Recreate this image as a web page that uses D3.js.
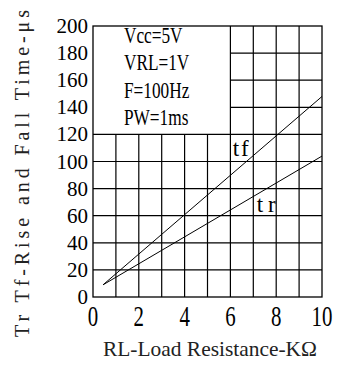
<!DOCTYPE html>
<html>
<head>
<meta charset="utf-8">
<script src="https://cdn.jsdelivr.net/npm/d3@7"></script>
<style>
body { margin: 0; background: #fff; }
</style>
</head>
<body>
<script>
// data
const xTicks = [0, 2, 4, 6, 8, 10];
const yTicks = [0, 20, 40, 60, 80, 100, 120, 140, 160, 180, 200];
const tfPoints = [{x: 0.44, y: 9}, {x: 10, y: 148}];
const trPoints = [{x: 0.44, y: 9}, {x: 10, y: 104}];
const conditions = ["Vcc=5V", "VRL=1V", "F=100Hz", "PW=1ms"];

const W = 343, H = 365;
var margin = {top: 26, right: 21, bottom: 68, left: 93};
var width = W - margin.left - margin.right,
    height = H - margin.top - margin.bottom;

var xScale = d3.scaleLinear().domain([0, 10]).range([0, width]);
var yScale = d3.scaleLinear().domain([0, 200]).range([height, 0]);

var svg = d3.select("body").append("svg")
    .attr("width", W)
    .attr("height", H);

var g = svg.append("g")
    .attr("transform", "translate(" + margin.left + "," + margin.top + ")");

var grid = g.append("g").attr("stroke", "#000").attr("stroke-width", 1.2);

// vertical grid: x=1..5 stop at the legend box (y=120), x>=6 full height
d3.range(1, 10).forEach(function(v) {
  grid.append("line")
    .attr("x1", xScale(v)).attr("x2", xScale(v))
    .attr("y1", yScale(0))
    .attr("y2", v < 6 ? yScale(120) : yScale(200));
});

// horizontal grid
d3.range(20, 200, 20).forEach(function(v) {
  grid.append("line")
    .attr("x1", v > 120 ? xScale(6) : xScale(0))
    .attr("x2", xScale(10))
    .attr("y1", yScale(v)).attr("y2", yScale(v));
});

// frame
g.append("rect")
  .attr("x", 0).attr("y", 0)
  .attr("width", width).attr("height", height)
  .attr("fill", "none")
  .attr("stroke", "#000")
  .attr("stroke-width", 1.3);

var line = d3.line()
  .x(function(d) { return xScale(d.x); })
  .y(function(d) { return yScale(d.y); });

g.append("path").datum(tfPoints)
  .attr("d", line).attr("fill", "none").attr("stroke", "#000").attr("stroke-width", 1);
g.append("path").datum(trPoints)
  .attr("d", line).attr("fill", "none").attr("stroke", "#000").attr("stroke-width", 1);

// curve labels
g.append("text")
  .attr("x", xScale(6.1)).attr("y", yScale(104))
  .attr("font-family", "Liberation Serif").attr("font-size", 23)
  .attr("textLength", 16).attr("lengthAdjust", "spacing")
  .text("tf");
g.append("text")
  .attr("x", xScale(7.15)).attr("y", yScale(63))
  .attr("font-family", "Liberation Serif").attr("font-size", 23)
  .attr("textLength", 19).attr("lengthAdjust", "spacing")
  .text("tr");

// conditions in the legend box
conditions.forEach(function(t, i) {
  g.append("text")
    .attr("transform", "translate(" + (xScale(1.35)) + "," + (17 + i * 27.3) + ") scale(0.72,1)")
    .attr("font-family", "Liberation Serif").attr("font-size", 24)
    .text(t);
});

// y tick labels
g.selectAll(".ylab").data(yTicks).enter().append("text")
  .attr("class", "ylab")
  .attr("x", -5)
  .attr("y", function(d) { return yScale(d) + 7; })
  .attr("text-anchor", "end")
  .attr("font-family", "Liberation Serif").attr("font-size", 21)
  .text(function(d) { return d; });

// x tick labels
g.selectAll(".xlab").data(xTicks).enter().append("text")
  .attr("class", "xlab")
  .attr("transform", function(d) { return "translate(" + xScale(d) + "," + (height + 29) + ") scale(0.72,1)"; })
  .attr("text-anchor", "middle")
  .attr("font-family", "Liberation Serif").attr("font-size", 29)
  .text(function(d) { return d; });

// axis titles
svg.append("text")
  .attr("x", 103).attr("y", 356)
  .attr("font-family", "Liberation Serif").attr("font-size", 21)
  .attr("textLength", 214).attr("lengthAdjust", "spacingAndGlyphs")
  .attr("fill", "#222")
  .text("RL-Load Resistance-KΩ");

svg.append("text")
  .attr("transform", "translate(29,337) rotate(-90)")
  .attr("font-family", "Liberation Serif").attr("font-size", 20)
  .attr("textLength", 327).attr("lengthAdjust", "spacing")
  .attr("fill", "#222")
  .text("Tr Tf-Rise and Fall Time-μs");
</script>
</body>
</html>
